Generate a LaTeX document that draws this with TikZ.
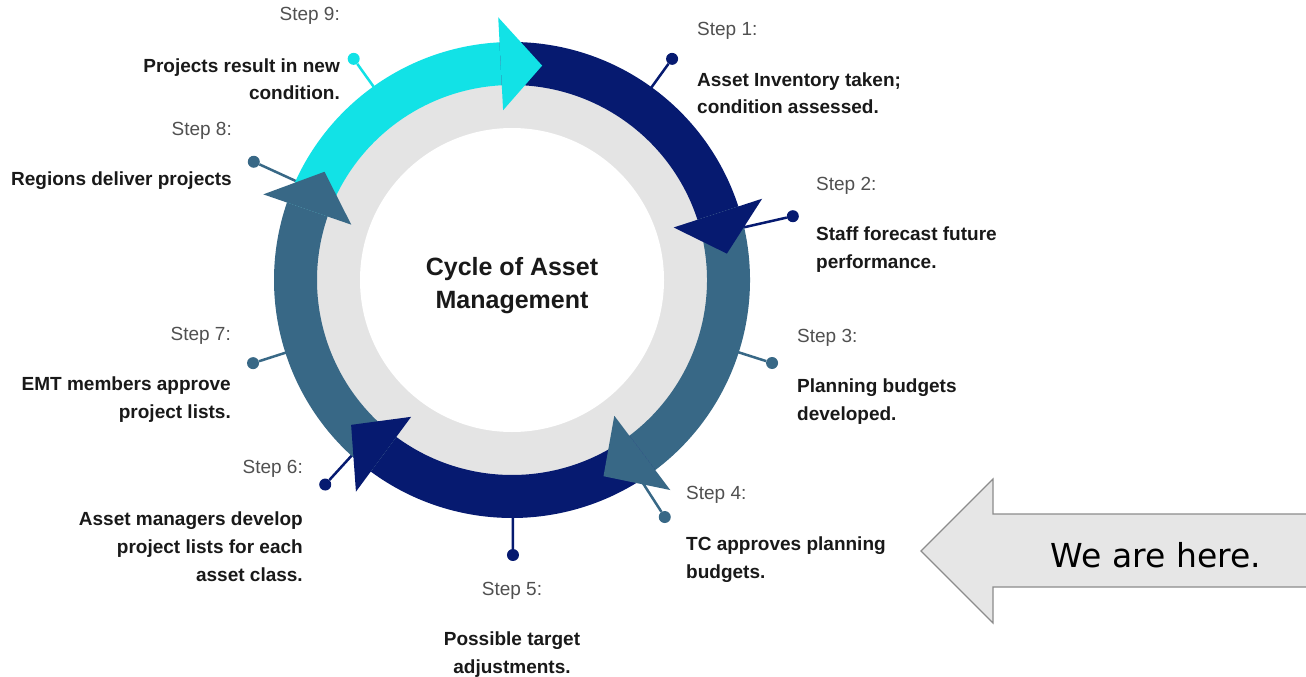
\documentclass[tikz,border=0pt]{standalone}
\usepackage{fontspec}
\setmainfont{Liberation Sans}
\newfontfamily\wefont{DejaVu Sans}
\usetikzlibrary{calc}
\definecolor{navyc}{RGB}{6,26,112}
\definecolor{steelc}{RGB}{56,104,134}
\definecolor{cyanc}{RGB}{18,226,230}
\definecolor{ringgray}{RGB}{228,228,228}
\definecolor{steptext}{RGB}{80,80,80}
\definecolor{desctext}{RGB}{25,25,25}
\definecolor{herefill}{RGB}{230,230,230}
\definecolor{hereline}{RGB}{140,140,140}
\newcommand{\ringseg}[3]{\fill[#1] ($(C)+(#2:238)$) arc[start angle=#2, end angle=#3, radius=238] -- ($(C)+(#3:195)$) arc[start angle=#3, end angle=#2, radius=195] -- cycle;}
\newcommand{\ringhead}[3]{\fill[#1] ($(C)+(#2:170)$) -- ($(C)+(#2:263)$) -- ($(C)+(#3:216.5)$) -- cycle;}
\newcommand{\lblock}[1]{\begin{tabular}[t]{@{}l@{}}#1\end{tabular}}
\newcommand{\rblock}[1]{\begin{tabular}[t]{@{}r@{}}#1\end{tabular}}
\newcommand{\cblock}[1]{\begin{tabular}[t]{@{}c@{}}#1\end{tabular}}
\tikzset{
  steplbl/.style={font=\fontsize{19}{28}\selectfont, text=steptext, inner sep=0pt},
  desclbl/.style={font=\fontsize{19}{28}\selectfont\bfseries, text=desctext, inner sep=0pt},
  pindot/.style={circle, inner sep=0pt, minimum size=12pt, fill=#1},
  pinline/.style={line width=2.5pt, draw=#1},
}
\begin{document}
\begin{tikzpicture}[x=1pt,y=1pt]
\useasboundingbox (0,0) rectangle (1306,-677);
\fill[white] (0,0) rectangle (1306,-677);
\coordinate (C) at (512,-280);

% pins (behind ring)
\foreach \nm/\ang/\r/\col in {p9/125.6/272/cyanc, p1/54.1/273/navyc, p2/12.8/288/navyc, p3/-17.7/273/steelc, p4/-57.2/282/steelc, p5/-89.8/275/navyc, p6/227.6/277/navyc, p7/197.8/272/steelc, p8/155.4/284/steelc}{
  \coordinate (\nm s) at ($(C)+(\ang:215)$);
  \node[pindot=\col] (\nm d) at ($(C)+(\ang:\r)$) {};
  \draw[pinline=\col] (\nm s) -- (\nm d);
}

% grey ring
\fill[ringgray] (C) circle[radius=200];
\fill[white] (C) circle[radius=152];

% arrow bodies
\ringseg{cyanc}{161}{93}
\ringseg{navyc}{93}{18}
\ringseg{steelc}{18}{-53}
\ringseg{navyc}{-53}{-126.4}
\ringseg{steelc}{-126.4}{-199}
% arrow heads
\ringhead{cyanc}{93}{82}
\ringhead{navyc}{18}{7}
\ringhead{steelc}{-53}{-65}
\ringhead{navyc}{-126.4}{-138}
\ringhead{steelc}{-199}{-210}

% title
\node[font=\fontsize{25}{33}\selectfont\bfseries, text=desctext, inner sep=0pt, anchor=base] (title) at (512,-275) {\cblock{Cycle of Asset\\Management}};

% step labels
\node[steplbl, anchor=base east] (s9) at (340,-21) {Step 9:};
\node[desclbl, anchor=base east] (d9) at (340,-72) {\rblock{Projects result in new\\condition.}};
\node[steplbl, anchor=base west] (s1) at (697,-36) {Step 1:};
\node[desclbl, anchor=base west] (d1) at (697,-86) {\lblock{Asset Inventory taken;\\condition assessed.}};
\node[steplbl, anchor=base west] (s2) at (816,-190) {Step 2:};
\node[desclbl, anchor=base west] (d2) at (816,-240) {\lblock{Staff forecast future\\performance.}};
\node[steplbl, anchor=base west] (s3) at (797,-342) {Step 3:};
\node[desclbl, anchor=base west] (d3) at (797,-392) {\lblock{Planning budgets\\developed.}};
\node[steplbl, anchor=base west] (s4) at (686,-499) {Step 4:};
\node[desclbl, anchor=base west] (d4) at (686,-550) {\lblock{TC approves planning\\budgets.}};
\node[steplbl, anchor=base] (s5) at (512,-595) {Step 5:};
\node[desclbl, anchor=base] (d5) at (512,-645) {\cblock{Possible target\\adjustments.}};
\node[steplbl, anchor=base east] (s6) at (303,-473) {Step 6:};
\node[desclbl, anchor=base east] (d6) at (303,-525) {\rblock{Asset managers develop\\project lists for each\\asset class.}};
\node[steplbl, anchor=base east] (s7) at (231,-340) {Step 7:};
\node[desclbl, anchor=base east] (d7) at (231,-390) {\rblock{EMT members approve\\project lists.}};
\node[steplbl, anchor=base east] (s8) at (232,-135) {Step 8:};
\node[desclbl, anchor=base east] (d8) at (232,-185) {Regions deliver projects};

% we are here arrow
\draw[fill=herefill, draw=hereline, line width=1.2pt] (921,-551) -- (993,-479) -- (993,-514) -- (1312,-514) -- (1312,-587) -- (993,-587) -- (993,-623) -- cycle;
\node[font=\wefont\fontsize{33}{40}\selectfont, text=black, inner sep=0pt, anchor=base] (here) at (1156,-567) {We are here.};
\end{tikzpicture}
\end{document}
